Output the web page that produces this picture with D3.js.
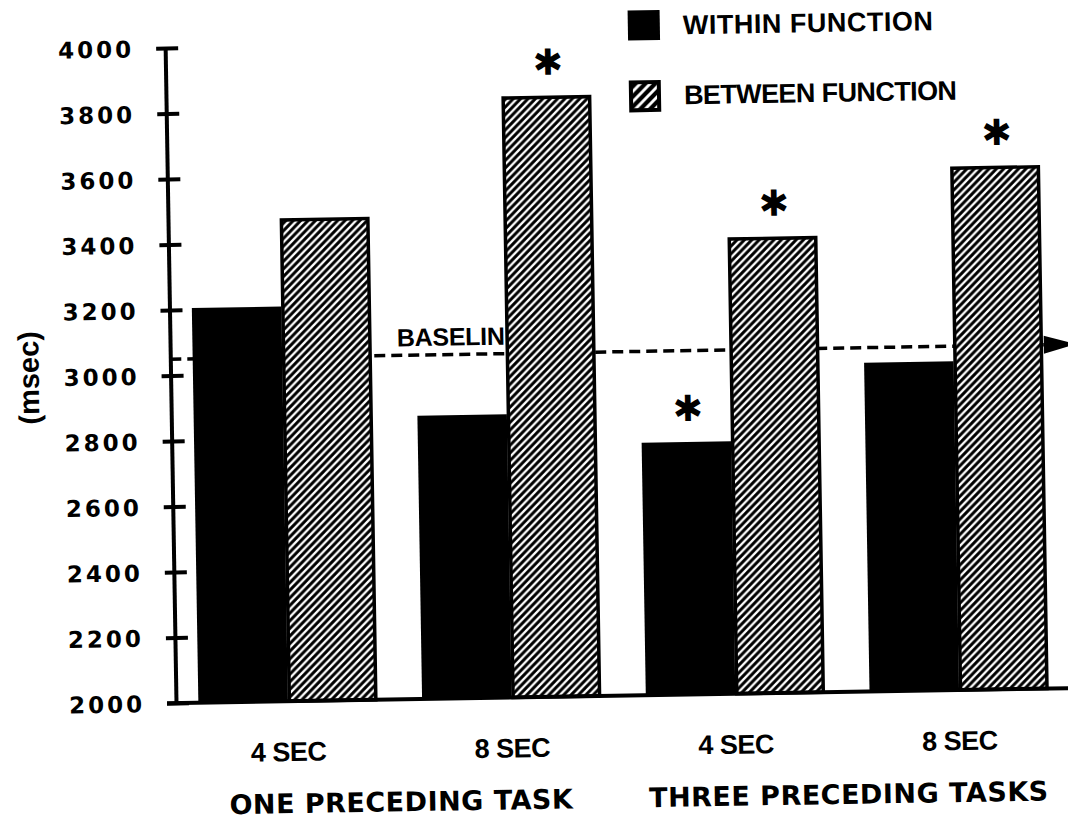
<!DOCTYPE html>
<html>
<head>
<meta charset="utf-8">
<script src="https://cdn.jsdelivr.net/npm/d3@7"></script>
<style>
  body { margin: 0; background: #fff; }
  #chart svg { display: block; }
</style>
</head>
<body>
<div id="chart"></div>
<script>
// data
const conditionKeys = ["one-4", "one-8", "three-4", "three-8"];
const delayLabels = ["4 SEC", "8 SEC", "4 SEC", "8 SEC"];
const taskGroups = ["ONE PRECEDING TASK", "THREE PRECEDING TASKS"];
const conditionGroup = [0, 0, 1, 1];
const withinValues = [3205, 2865, 2771, 3004];
const betweenValues = [3474, 3835, 3393, 3598];
const withinSig = [false, false, true, false];
const betweenSig = [false, true, true, true];
const seriesNames = ["WITHIN FUNCTION", "BETWEEN FUNCTION"];
const yTickValues = [2000, 2200, 2400, 2600, 2800, 3000, 3200, 3400, 3600, 3800, 4000];
const baselineValue = 3050;

const width = 1068, height = 823;
const chartWidth = 895, chartHeight = 655;

const svg = d3.select("#chart")
  .append("svg")
  .attr("width", width)
  .attr("height", height);

// hatch patterns for the between-function bars (bars and legend swatch)
const defs = svg.append("defs");
function addHatch(id, size, lineWidth) {
  const p = defs.append("pattern")
    .attr("id", id)
    .attr("patternUnits", "userSpaceOnUse")
    .attr("width", size)
    .attr("height", size);
  p.append("rect").attr("width", size).attr("height", size).attr("fill", "#fff");
  p.append("path")
    .attr("d", `M${-size / 4},${size / 4} L${size / 4},${-size / 4} M0,${size} L${size},0 M${size * 3 / 4},${size * 5 / 4} L${size * 5 / 4},${size * 3 / 4}`)
    .attr("stroke", "#000")
    .attr("stroke-width", lineWidth);
}
addHatch("hatch", 7.5, 3);
addHatch("hatchBig", 10, 4.2);

// the scanned figure is slightly tilted, so the whole chart is too
const g = svg.append("g")
  .attr("transform", `rotate(-0.95, 176, 703) translate(176, 48)`);

const y = d3.scaleLinear()
  .domain([2000, 4000])
  .range([chartHeight, 0]);

const x0 = d3.scaleBand()
  .domain(conditionKeys)
  .range([0, chartWidth])
  .paddingInner(0.2)
  .paddingOuter(0.1);

const x1 = d3.scaleBand()
  .domain(["within", "between"])
  .range([0, x0.bandwidth()]);

const rows = conditionKeys.map((k, i) => ({
  key: k,
  delay: delayLabels[i],
  within: withinValues[i],
  between: betweenValues[i],
  withinSig: withinSig[i],
  betweenSig: betweenSig[i]
}));

// baseline label (its last letter sits under the next bar, as in the original)
const yb = y(baselineValue);
g.append("text")
  .attr("x", 227)
  .attr("y", yb - 9)
  .style("font-family", "'Liberation Sans', Arial, sans-serif")
  .style("font-weight", "bold")
  .style("font-size", "25px")
  .style("letter-spacing", "-0.3px")
  .text("BASELINE");

// dashed baseline
const arrowStart = x0("three-8") + x0.bandwidth() + 1;
g.append("line")
  .attr("x1", 0)
  .attr("x2", arrowStart)
  .attr("y1", yb)
  .attr("y2", yb)
  .attr("stroke", "#000")
  .attr("stroke-width", 3.5)
  .attr("stroke-dasharray", "11,6");

// bars
const bars = g.selectAll(".cond")
  .data(rows)
  .join("g")
  .attr("class", "cond")
  .attr("transform", d => `translate(${x0(d.key)},0)`);

bars.append("rect")
  .attr("x", x1("within"))
  .attr("y", d => y(d.within))
  .attr("width", x1.bandwidth())
  .attr("height", d => chartHeight - y(d.within))
  .attr("fill", "#000");

bars.append("rect")
  .attr("x", x1("between") + 1.5)
  .attr("y", d => y(d.between) + 1.5)
  .attr("width", x1.bandwidth() - 3)
  .attr("height", d => chartHeight - y(d.between) - 1.5)
  .attr("fill", "url(#hatch)")
  .attr("stroke", "#000")
  .attr("stroke-width", 3.5);

// significance asterisks
const starStyle = sel => sel
  .attr("text-anchor", "middle")
  .style("font-family", "'DejaVu Sans', sans-serif")
  .style("font-weight", "bold")
  .style("font-size", "36px");

bars.filter(d => d.withinSig).append("text")
  .attr("x", x1("within") + x1.bandwidth() / 2 + 2)
  .attr("y", d => y(d.within) - 35 + 14)
  .call(starStyle)
  .text("✱");

bars.filter(d => d.betweenSig).append("text")
  .attr("x", x1("between") + x1.bandwidth() / 2 + 2)
  .attr("y", d => y(d.between) - 35 + 14)
  .call(starStyle)
  .text("✱");

// arrow head at the end of the baseline
g.append("path")
  .attr("d", `M${arrowStart},${yb - 9} L${arrowStart + 32},${yb} L${arrowStart},${yb + 9} Z`)
  .attr("fill", "#000");

// y axis
const yAxis = g.append("g")
  .call(d3.axisLeft(y).tickValues(yTickValues).tickFormat(d3.format("d")).tickSizeOuter(0).tickPadding(0));
yAxis.select(".domain")
  .attr("stroke-width", 4);
yAxis.selectAll(".tick line")
  .attr("x1", -9)
  .attr("x2", 13)
  .attr("stroke-width", 4);
yAxis.selectAll(".tick text")
  .attr("x", -31)
  .attr("dy", "0.36em")
  .style("font-family", "'DejaVu Sans', sans-serif")
  .style("font-weight", "bold")
  .style("font-size", "23px")
  .style("letter-spacing", "3px")
  .attr("fill", "#000");

// x axis line and delay labels
g.append("line")
  .attr("x1", -9)
  .attr("x2", chartWidth)
  .attr("y1", chartHeight)
  .attr("y2", chartHeight)
  .attr("stroke", "#000")
  .attr("stroke-width", 4);

const xAxis = g.append("g")
  .attr("transform", `translate(0,${chartHeight})`)
  .call(d3.axisBottom(x0).tickSize(0).tickFormat((d, i) => delayLabels[i]));
xAxis.select(".domain").remove();
xAxis.selectAll(".tick text")
  .attr("y", 60)
  .attr("dy", 0)
  .style("font-family", "'Liberation Sans', Arial, sans-serif")
  .style("font-weight", "bold")
  .style("font-size", "27px")
  .style("letter-spacing", "-0.5px")
  .attr("fill", "#000");

// task group labels
taskGroups.forEach((name, gi) => {
  const members = conditionKeys.filter((k, i) => conditionGroup[i] === gi);
  const cx = d3.mean(members, k => x0(k) + x0.bandwidth() / 2);
  g.append("text")
    .attr("x", cx)
    .attr("y", chartHeight + 112)
    .attr("text-anchor", "middle")
    .style("font-family", "'DejaVu Sans', sans-serif")
    .style("font-weight", "bold")
    .style("font-size", "27px")
    .style("letter-spacing", "0.5px")
    .text(name);
});

// y axis title
g.append("text")
  .attr("transform", `translate(-142, ${chartHeight / 2}) rotate(-90)`)
  .attr("text-anchor", "middle")
  .attr("dy", "0.35em")
  .style("font-family", "'Liberation Sans', Arial, sans-serif")
  .style("font-weight", "bold")
  .style("font-size", "29px")
  .text("(msec)");

// legend
const legend = g.append("g")
  .attr("transform", "translate(463, -30)");

const legendItems = legend.selectAll("g")
  .data(seriesNames)
  .join("g")
  .attr("transform", (d, i) => `translate(0, ${i * 70})`);

legendItems.append("rect")
  .attr("x", (d, i) => i === 0 ? 0 : 2)
  .attr("y", (d, i) => i === 0 ? 0 : 2)
  .attr("width", (d, i) => i === 0 ? 32 : 28)
  .attr("height", (d, i) => i === 0 ? 30 : 28)
  .attr("fill", (d, i) => i === 0 ? "#000" : "url(#hatchBig)")
  .attr("stroke", (d, i) => i === 0 ? "none" : "#000")
  .attr("stroke-width", 4);

legendItems.append("text")
  .attr("x", 55)
  .attr("y", 15)
  .attr("dy", "0.36em")
  .style("font-family", "'Liberation Sans', Arial, sans-serif")
  .style("font-weight", "bold")
  .style("font-size", "27px")
  .style("letter-spacing", (d, i) => i === 0 ? "0.5px" : "-0.6px")
  .text(d => d);
</script>
</body>
</html>
